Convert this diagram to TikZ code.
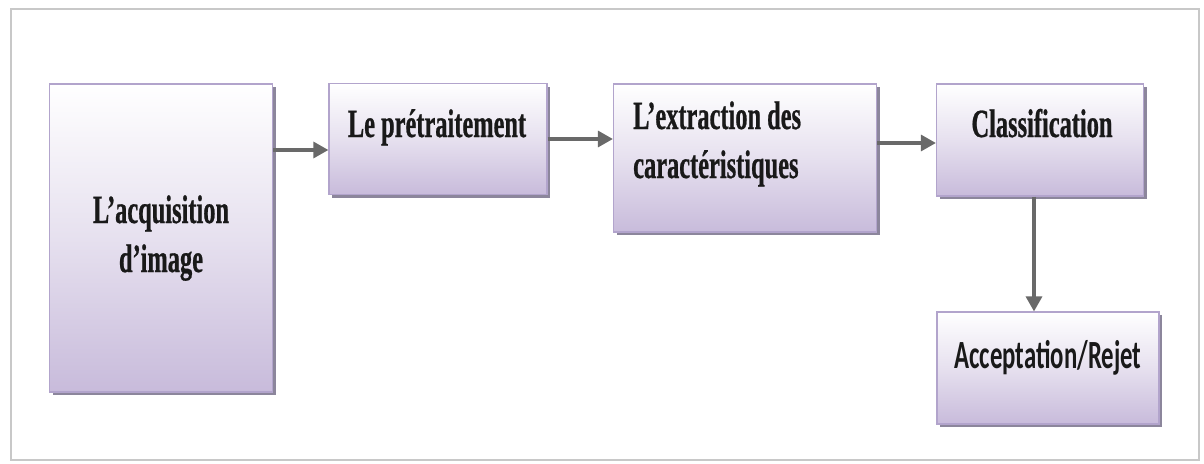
\documentclass[tikz,border=0pt]{standalone}
\usepackage{fontspec}
\setmainfont{Liberation Serif}
\newfontfamily\boxserif[FakeStretch=0.61,FakeBold=0.6]{Liberation Serif}
\newfontfamily\boxsans[FakeStretch=0.62]{Carlito}
\usetikzlibrary{arrows.meta}
\definecolor{lavender}{RGB}{200,187,219}
\definecolor{boxedge}{RGB}{178,164,204}
\definecolor{boxshadow}{RGB}{140,134,156}
\definecolor{arrowgrey}{RGB}{105,105,105}
\definecolor{framegrey}{RGB}{200,200,200}
\tikzset{
  stage/.style={rectangle, draw=boxedge, line width=1.2pt,
    top color=white, bottom color=lavender, middle color=white!55!lavender,
    inner sep=0pt,
    preaction={fill=boxshadow, transform canvas={shift={(3pt,-3pt)}}}},
  seriflabel/.style={font={\boxserif\bfseries\fontsize{40}{49}\selectfont},
    text=black!90, inner sep=0pt},
  sanslabel/.style={font={\boxsans\bfseries\fontsize{40}{48}\selectfont},
    text=black!90, inner sep=0pt},
  flow/.style={draw=arrowgrey, line width=3.2pt,
    -{Triangle[length=15pt,width=16pt]}}
}
\begin{document}
\begin{tikzpicture}[x=1pt,y=-1pt]
  \useasboundingbox (0,0) rectangle (1204,463);
  % outer frame
  \node[draw=framegrey, line width=2pt, minimum width=1188pt, minimum height=451pt,
        inner sep=0pt] (frame) at (605,234) {};

  % stages
  \node[stage, minimum width=223pt, minimum height=308pt] (acq) at (161,238) {};
  \node[stage, minimum width=218pt, minimum height=111pt] (pre) at (438,139) {};
  \node[stage, minimum width=263pt, minimum height=148pt] (ext) at (745,158) {};
  \node[stage, minimum width=207pt, minimum height=112pt] (cls) at (1040,140) {};
  \node[stage, minimum width=222pt, minimum height=112pt] (acc) at (1048,368) {};

  % labels (the base anchor of a two-line label sits on its last line)
  \node[seriflabel, align=center, anchor=base] (acqT) at (161,272)
    {L’acquisition\\d’image};
  \node[seriflabel, anchor=base] (preT) at (437,137) {Le prétraitement};
  \node[seriflabel, align=left, anchor=base west] (extT) at (633,178)
    {L’extraction des\\caractéristiques};
  \node[seriflabel, anchor=base] (clsT) at (1042,137) {Classification};
  \node[sanslabel, anchor=base] (accT) at (1048,368) {Acceptation/Rejet};

  % connectors
  \draw[flow] ([yshift=-11pt]acq.east |- pre.west) -- ([yshift=-11pt]pre.west);
  \draw[flow] (pre.east) -- (ext.west |- pre.east);
  \draw[flow] ([yshift=-3pt]ext.east |- cls.west) -- ([yshift=-3pt]cls.west);
  \draw[flow] ([xshift=-6pt]cls.south) -- ([xshift=-6pt]cls.south |- acc.north);
\end{tikzpicture}
\end{document}
